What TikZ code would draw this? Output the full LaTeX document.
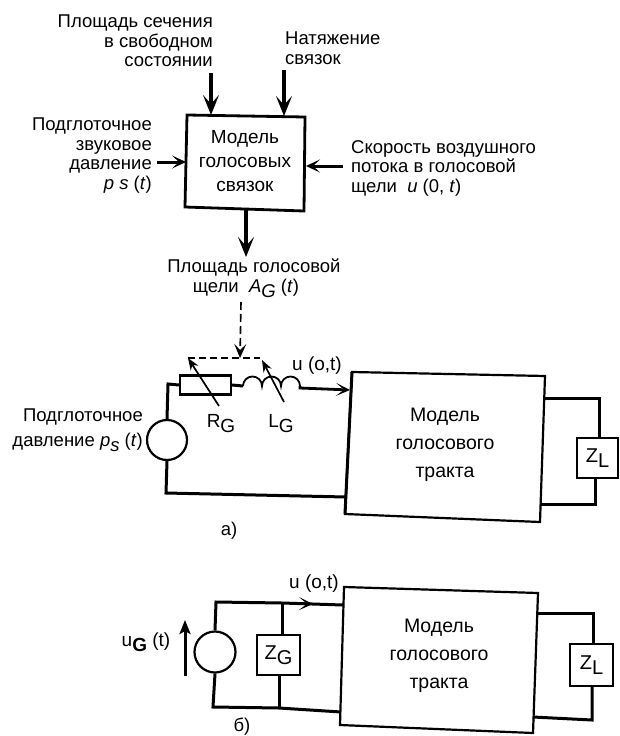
\documentclass[tikz,border=0pt]{standalone}
\usepackage{fontspec}
\setmainfont{Liberation Sans}
\usetikzlibrary{arrows.meta}
\tikzset{
 wire/.style={line width=3pt,line join=miter},
 outline/.style={line width=2.2pt,line join=miter},
 thickarr/.style={line width=4.5pt,-{Stealth[length=20pt,width=16pt,inset=9pt]}},
 midarr/.style={line width=3pt,-{Stealth[length=14pt,width=13pt,inset=7pt]}},
 barb/.style={line width=1.6pt,-{Stealth[length=14pt,width=13pt,inset=8pt]}},
 lbl/.style={inner sep=0pt,align=center,font=\fontsize{18.5}{19.5}\selectfont},
 lblL/.style={lbl,align=left,anchor=west},
 lblR/.style={lbl,align=right,anchor=east},
 boxtext/.style={inner sep=0pt,align=center,font=\fontsize{19}{24}\selectfont},
 tracttext/.style={inner sep=0pt,align=center,font=\fontsize{19.5}{28}\selectfont},
 cct/.style={inner sep=0pt,font=\fontsize{19}{20}\selectfont},
 zbox/.style={draw,line width=2.2pt,inner sep=0pt,font=\fontsize{20}{20}\selectfont},
 srcshape/.style={draw,line width=2.2pt,circle,inner sep=0pt,minimum size=40pt},
 tiparr/.style={line width=1.7pt,-{Stealth[length=12pt,width=9pt]}},
}
\newcommand{\subdrop}[1]{\raisebox{-5pt}{#1}}
\begin{document}
\begin{tikzpicture}[x=1pt,y=-1pt]
\useasboundingbox[fill=white] (0,0) rectangle (620,736);
% ---- top box
\coordinate (v1) at (187,115); \coordinate (v2) at (305,117);
\coordinate (v3) at (304,211); \coordinate (v4) at (185,207);
\draw[line width=2.8pt,line join=miter] (v1) -- (v2) -- (v3) -- (v4) -- cycle;
\node[boxtext] (vf) at (245,161) {Модель\\голосовых\\связок};
\node[lblR] (t1) at (213,41) {Площадь сечения\\в свободном\\состоянии};
\node[lblL] (t2) at (285,48) {Натяжение\\связок};
\node[lblR] (t3) at (152,155.5) {Подглоточное\\звуковое\\давление\\\textit{p s} (\textit{t})};
\node[lblL] (t4) at (351,168) {Скорость воздушного\\потока в голосовой\\щели\ \ \textit{u} (0, \textit{t})};
\node[lbl] (t5) at (254,278) {Площадь голосовой\\щели\ \ \textit{A}\subdrop{\textit{G}} (\textit{t})\hspace*{16pt}};
\coordinate (a1s) at (211,73); \coordinate (a1e) at (211,115);
\coordinate (a2s) at (284,70); \coordinate (a2e) at (284,116);
\coordinate (a3s) at (157,162); \coordinate (a3e) at (186,162);
\coordinate (a4s) at (343,166); \coordinate (a4e) at (306,166);
\coordinate (a5s) at (246,210); \coordinate (a5e) at (246,257);
\draw[thickarr] (a1s) -- (a1e);
\draw[thickarr] (a2s) -- (a2e);
\draw[midarr] (a3s) -- (a3e);
\draw[midarr] (a4s) -- (a4e);
\draw[thickarr] (a5s) -- (a5e);
% ---- circuit a
\coordinate (pa1) at (352,372); \coordinate (pa2) at (545,376);
\coordinate (pa3) at (540,522); \coordinate (pa4) at (345,514);
\draw[outline] (pa1) -- (pa2) -- (pa3) -- (pa4) -- cycle;
\draw[wire] (pa1) -- (pa4);
\node[tracttext] (vta) at (445,445) {Модель\\голосового\\тракта};
\node[srcshape] (srca) at (167,440) {};
\node[draw,line width=2.2pt,minimum width=51pt,minimum height=19pt,inner sep=0pt] (rg) at (205.5,385) {};
\coordinate (cs) at (168,384);
\coordinate (cb) at (166,493);
\coordinate (cbe) at (346,497);
\coordinate (ls) at (243,386);
\coordinate (lend) at (350,390);
\draw[wire] (srca.north) -- (cs) -- (rg.west);
\draw[wire] (srca.south) -- (cb) -- (cbe);
\draw[wire] (rg.east) -- (ls);
\draw[line width=1.8pt] (ls) arc[start angle=180,end angle=0,radius=9.5pt]
 arc[start angle=180,end angle=0,radius=9.5pt]
 arc[start angle=180,end angle=0,radius=9.5pt] coordinate (l3);
\draw[barb,line width=2.8pt] (l3) -- ++(0,2) -- (lend);
\coordinate (rga) at (219,406); \coordinate (rgb) at (188,358);
\coordinate (lga) at (284,402); \coordinate (lgb) at (262,360);
\draw[tiparr] (rga) -- (rgb);
\draw[tiparr] (lga) -- (lgb);
\coordinate (da) at (188,358); \coordinate (db) at (260,358);
\draw[line width=1.3pt,dash pattern=on 7pt off 4pt] (da) -- (db);
\coordinate (ds) at (241,302); \coordinate (de) at (240,358);
\draw[line width=1.6pt,dash pattern=on 8pt off 4pt,-{Stealth[length=14pt,width=12pt,inset=6pt]}] (ds) -- (de);
\node[cct] (rglab) at (221,424) {R\subdrop{G}};
\node[cct] (lglab) at (281,424) {L\subdrop{G}};
\node[cct] (ulab) at (317,366) {u (o,t)};
\node[lbl,font=\fontsize{18.5}{25}\selectfont,align=right,anchor=east] (sl) at (143,430) {Подглоточное\\давление \textit{p}\subdrop{\textit{s}} (\textit{t})};
\node[zbox,minimum width=41pt,minimum height=40pt] (zla) at (597.5,458) {Z\subdrop{L}};
\coordinate (zat0) at (545,398); \coordinate (zat) at (599,398);
\coordinate (zab) at (595,504); \coordinate (zab0) at (540,504);
\draw[wire] (zat0) -- (zat) -- (zla.north -| zat);
\draw[wire] (zla.south -| zab) -- (zab) -- (zab0);
\node[lbl] (capa) at (229,531) {а)};
% ---- circuit b
\coordinate (pb1) at (344,587); \coordinate (pb2) at (538,593);
\coordinate (pb3) at (533,733); \coordinate (pb4) at (340,725);
\draw[outline] (pb1) -- (pb2) -- (pb3) -- (pb4) -- cycle;
\node[tracttext] (vtb) at (439,656) {Модель\\голосового\\тракта};
\node[srcshape,minimum size=41pt] (srcb) at (215,652) {};
\node[zbox,minimum width=43pt,minimum height=40pt] (zg) at (278.5,655) {Z\subdrop{G}};
\coordinate (bt) at (216,602); \coordinate (btg) at (282,603); \coordinate (bte) at (343,605);
\coordinate (bb) at (213,707); \coordinate (bbg) at (279,708); \coordinate (bbe) at (341,712);
\draw[wire] (srcb.north) -- (bt) -- (btg) -- (bte);
\draw[wire] (srcb.south) -- (bb) -- (bbg) -- (bbe);
\draw[wire] (btg) -- (zg.north -| btg);
\draw[wire] (zg.south -| bbg) -- (bbg);
\coordinate (bar1) at (295,603.5); \coordinate (bar2) at (313,604);
\draw[barb] (bar1) -- (bar2);
\coordinate (ua) at (185,676); \coordinate (ub) at (185,620);
\draw[line width=3pt,-{Stealth[length=14pt,width=11pt,inset=3pt]}] (ua) -- (ub);
\node[cct] (uglab) at (146,642) {u\subdrop{\textbf{G}} (t)};
\node[cct] (ulabb) at (314,584) {u (o,t)};
\node[zbox,minimum width=43pt,minimum height=42pt] (zlb) at (591.5,665) {Z\subdrop{L}};
\coordinate (zbt0) at (538,613); \coordinate (zbt) at (593,613);
\coordinate (zbb) at (592,720); \coordinate (zbb0) at (533,717);
\draw[wire] (zbt0) -- (zbt) -- (zlb.north -| zbt);
\draw[wire] (zlb.south -| zbb) -- (zbb) -- (zbb0);
\node[lbl] (capb) at (242,727) {б)};
\end{tikzpicture}
\end{document}
